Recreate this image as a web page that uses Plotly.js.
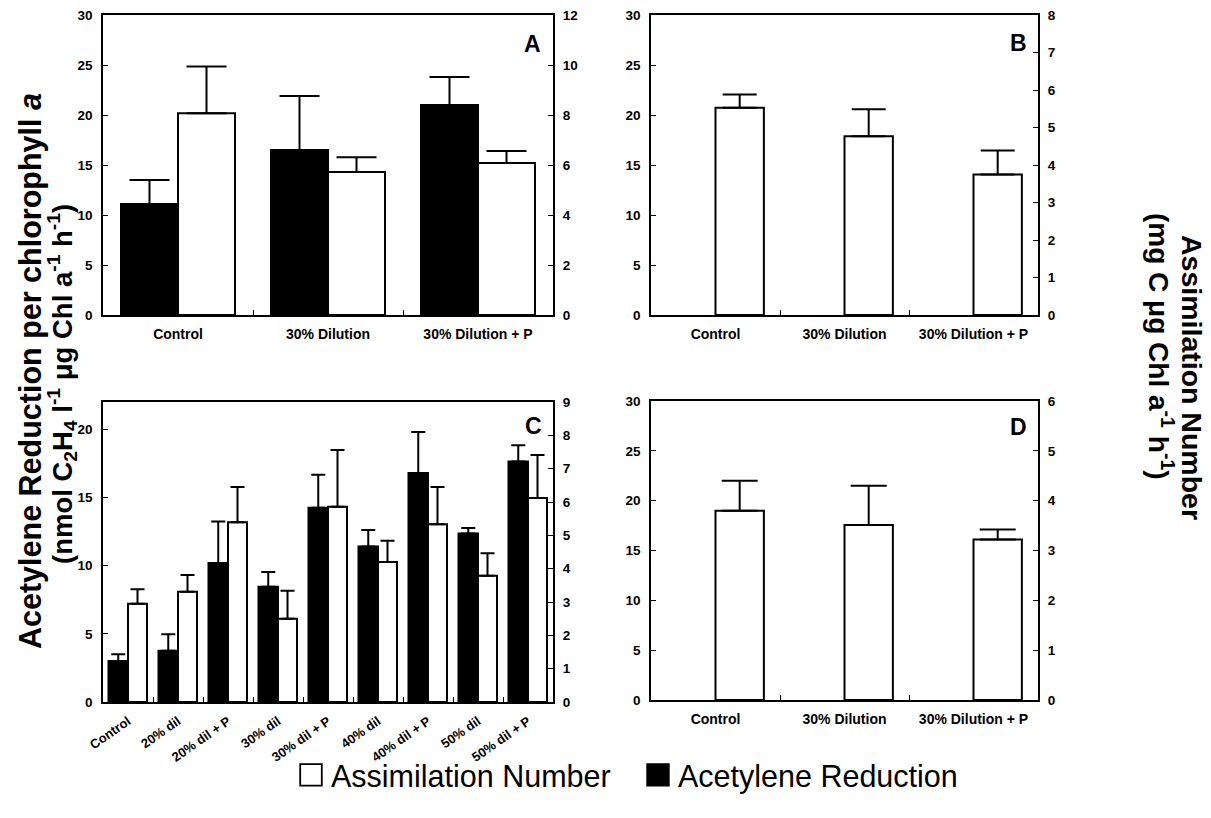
<!DOCTYPE html>
<html>
<head>
<meta charset="utf-8">
<script src="https://cdn.plot.ly/plotly-3.0.1.min.js"></script>
<style>html,body{margin:0;padding:0;background:#fff;}#chart{width:1211px;height:818px;}</style>
</head>
<body>
<div id="chart"></div>
<script>
// ---------- data ----------
const catsABD = ['Control', '30% Dilution', '30% Dilution + P'];
const catsC = ['Control', '20% dil', '20% dil + P', '30% dil', '30% dil + P', '40% dil', '40% dil + P', '50% dil', '50% dil + P'];

// Panel A (acetylene on left axis, assimilation on right axis)
const aAcet = [11.1, 16.5, 21.0];
const aAcetErr = [2.4, 5.4, 2.8];
const aAssim = [8.07, 5.72, 6.08];
const aAssimErr = [1.87, 0.59, 0.48];

// Panel B (assimilation, right axis)
const bAssim = [5.53, 4.77, 3.75];
const bAssimErr = [0.35, 0.72, 0.64];

// Panel C
const cAcet = [3.0, 3.76, 10.2, 8.46, 14.24, 11.41, 16.8, 12.36, 17.63];
const cAcetErr = [0.5, 1.2, 3.04, 1.08, 2.42, 1.2, 3.0, 0.4, 1.2];
const cAssim = [2.95, 3.31, 5.39, 2.50, 5.86, 4.20, 5.33, 3.79, 6.12];
const cAssimErr = [0.43, 0.5, 1.06, 0.84, 1.7, 0.64, 1.12, 0.67, 1.29];

// Panel D (assimilation, right axis)
const dAssim = [3.8, 3.51, 3.22];
const dAssimErr = [0.6, 0.79, 0.2];

const seriesNames = ['Assimilation Number', 'Acetylene Reduction'];

// ---------- layout helpers ----------
const W = 1211, H = 818;
const px = v => v / W;
const py = v => 1 - v / H;
const FONT = 'Liberation Sans, Arial, Helvetica, sans-serif';
const zeros = n => new Array(n).fill(0);
const nulls = n => new Array(n).fill(null);

function err(arr, w) {
  return {type: 'data', array: arr, arrayminus: zeros(arr.length), symmetric: false,
          color: '#000', thickness: 2, width: w, visible: true};
}
function acetBar(x, y, e, xa, ya, w, bw, show) {
  return {type: 'bar', x: x, y: y, xaxis: xa, yaxis: ya, name: seriesNames[1],
          legendgroup: 'acet', legendrank: 2, showlegend: show,
          width: bw, offset: -bw,
          marker: {color: '#000', line: {color: '#000', width: 2}},
          error_y: err(e, w), hoverinfo: 'x+y'};
}
function assimBar(x, y, e, xa, ya, w, bw, show) {
  return {type: 'bar', x: x, y: y, xaxis: xa, yaxis: ya, name: seriesNames[0],
          legendgroup: 'assim', legendrank: 1, showlegend: show,
          width: bw, offset: 0,
          marker: {color: '#fff', line: {color: '#000', width: 2}},
          error_y: err(e, w), hoverinfo: 'x+y'};
}
// empty placeholder so that the left-axis subplot of B and D exists
function holder(x, xa, ya) {
  return {type: 'scatter', mode: 'markers', x: x, y: nulls(x.length), xaxis: xa, yaxis: ya,
          showlegend: false, hoverinfo: 'skip'};
}

const data = [
  assimBar(catsABD, aAssim, aAssimErr, 'x', 'y2', 20, 0.38, true),
  acetBar(catsABD, aAcet, aAcetErr, 'x', 'y', 20, 0.38, true),
  holder(catsABD, 'x2', 'y3'),
  assimBar(catsABD, bAssim, bAssimErr, 'x2', 'y4', 17, 0.375, false),
  acetBar(catsC, cAcet, cAcetErr, 'x3', 'y5', 7, 0.39, false),
  assimBar(catsC, cAssim, cAssimErr, 'x3', 'y6', 7, 0.38, false),
  holder(catsABD, 'x4', 'y7'),
  assimBar(catsABD, dAssim, dAssimErr, 'x4', 'y8', 18, 0.375, false)
];

const tickFont = {family: FONT, size: 13.5, color: '#000', weight: 'bold'};
const catFont = {family: FONT, size: 14, color: '#000', weight: 'bold'};

function xAxis(dom, anchor, extra) {
  return Object.assign({domain: dom, anchor: anchor, type: 'category',
    showline: true, linecolor: '#000', linewidth: 1.5, mirror: true,
    ticks: 'inside', tickson: 'boundaries', ticklen: 5, tickcolor: '#000', tickwidth: 1,
    showgrid: false, zeroline: false, tickfont: catFont, ticklabelstandoff: 5,
    fixedrange: true}, extra || {});
}
function yLeft(dom, anchor, range, dtick, extra) {
  return Object.assign({domain: dom, anchor: anchor, range: range, dtick: dtick, tick0: 0,
    showline: true, linecolor: '#000', linewidth: 1.5,
    ticks: 'inside', ticklen: 5, tickcolor: '#000', tickwidth: 1,
    showgrid: false, zeroline: false, tickfont: tickFont, ticklabelstandoff: 6,
    fixedrange: true}, extra || {});
}
function yRight(overlay, anchor, range, dtick) {
  return {overlaying: overlay, side: 'right', anchor: anchor, range: range, dtick: dtick, tick0: 0,
    showline: true, linecolor: '#000', linewidth: 2,
    ticks: 'inside', ticklen: 5, tickcolor: '#000', tickwidth: 1,
    showgrid: false, zeroline: false, tickfont: tickFont, ticklabelstandoff: 5,
    fixedrange: true};
}

const domAx = [px(103), px(553)], domBx = [px(651), px(1038)];
const domTop = [py(315), py(15)], domCy = [py(702), py(402)], domDy = [py(700), py(401)];

function letter(t, x, y) {
  return {text: t, xref: 'paper', yref: 'paper', x: px(x), y: py(y), showarrow: false,
          xanchor: 'center', yanchor: 'middle',
          font: {family: FONT, size: 23, color: '#000', weight: 'bold'}};
}
function vtitle(t, x, y, ang, size) {
  return {text: t, xref: 'paper', yref: 'paper', x: px(x), y: py(y), showarrow: false,
          xanchor: 'center', yanchor: 'middle', textangle: ang,
          font: {family: FONT, size: size, color: '#000', weight: 'bold'}};
}

const layout = {
  width: W, height: H, margin: {l: 0, r: 0, t: 0, b: 0},
  paper_bgcolor: '#fff', plot_bgcolor: '#fff',
  barmode: 'group', bargap: 0.24,
  xaxis: xAxis(domAx, 'y'),
  yaxis: yLeft(domTop, 'x', [0, 30], 5),
  yaxis2: yRight('y', 'x', [0, 12], 2),
  xaxis2: xAxis(domBx, 'y3'),
  yaxis3: yLeft(domTop, 'x2', [0, 30], 5),
  yaxis4: yRight('y3', 'x2', [0, 8], 1),
  xaxis3: xAxis(domAx, 'y5', {tickangle: -35, tickfont: {family: FONT, size: 13, color: '#000', weight: 'bold'}}),
  yaxis5: yLeft(domCy, 'x3', [0, 22], 5),
  yaxis6: yRight('y5', 'x3', [0, 9], 1),
  xaxis4: xAxis(domBx, 'y7'),
  yaxis7: yLeft(domDy, 'x4', [0, 30], 5),
  yaxis8: yRight('y7', 'x4', [0, 6], 1),
  showlegend: true,
  legend: {orientation: 'h', x: px(291), xanchor: 'left', y: py(775), yanchor: 'middle',
           entrywidth: 302, entrywidthmode: 'pixels',
           font: {family: FONT, size: 30.5, color: '#000'}, bgcolor: 'rgba(0,0,0,0)',
           traceorder: 'normal', itemclick: false, itemdoubleclick: false},
  annotations: [
    letter('A', 532, 44), letter('B', 1019, 43), letter('C', 533, 426), letter('D', 1019, 427),
    vtitle('Acetylene Reduction per chlorophyll <i>a</i>', 30, 371, -90, 30.5),
    vtitle('(nmol C<sub>2</sub>H<sub>4</sub> l<sup>-1</sup> μg Chl a<sup>-1</sup> h<sup>-1</sup>)', 62, 384, -90, 27.5),
    vtitle('Assimilation Number', 1192, 377, 90, 28.5),
    vtitle('(mg C μg Chl a<sup>-1</sup> h<sup>-1</sup>)', 1161, 346, 90, 28)
  ]
};

Plotly.newPlot('chart', data, layout, {displayModeBar: false}).then(gd => {
  gd.querySelectorAll('.legend .legendpoints path').forEach(p => {
    const t = p.getAttribute('transform') || '';
    p.setAttribute('transform', t + ' scale(1.8)');
    p.style.strokeWidth = '1px';
  });
});
</script>
</body>
</html>
